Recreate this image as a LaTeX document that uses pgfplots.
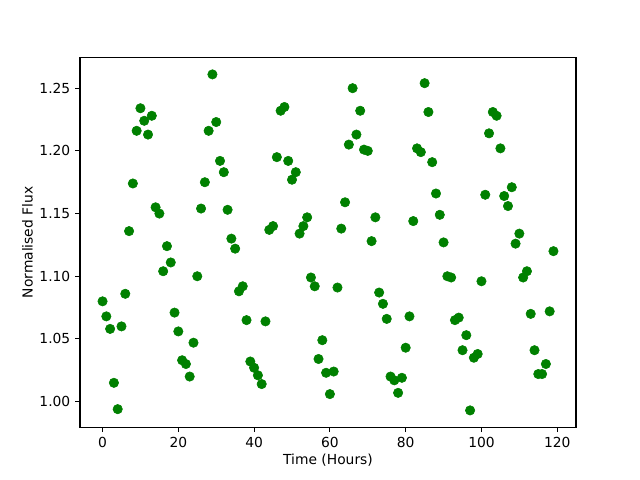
\documentclass[border=0pt]{standalone}
\usepackage{fontspec}
\setmainfont{DejaVu Sans}
\usepackage{pgfplots}
\pgfplotsset{compat=1.18}
\definecolor{mplgreen}{HTML}{008000}

\begin{document}
\begin{tikzpicture}
\path[use as bounding box] (-0.8in,-0.528in) rectangle (5.6in,4.272in);
\begin{axis}[
    at={(0,0)}, anchor=south west,
    scale only axis,
    width=4.96in, height=3.696in,
    xmin=-5.95, xmax=124.95,
    ymin=0.9796, ymax=1.2744,
    xtick={0,20,...,120},
    ytick={1.00,1.05,...,1.26},
    yticklabel style={/pgf/number format/.cd, fixed, fixed zerofill, precision=2},
    /pgf/number format/assume math mode=true,
    tick align=outside,
    tick pos=left,
    major tick length=3.5pt,
    tick style={black, line width=0.8pt},
    axis line style={line width=0.8pt},
    ticklabel style={font=\fontsize{10}{12}\selectfont},
    label style={font=\fontsize{10}{12}\selectfont},
    xlabel={Time (Hours)},
    ylabel={Normalised Flux},
    xlabel style={yshift=2pt},
    ylabel style={yshift=-2pt},
]
\addplot[only marks, mark=*, mark size=3.4pt, color=mplgreen, mark options={fill=mplgreen, draw=mplgreen}] coordinates {
(0,1.080) (1,1.068) (2,1.058) (3,1.015) (4,0.994) (5,1.060) (6,1.086) (7,1.136) (8,1.174) (9,1.216)
(10,1.234) (11,1.224) (12,1.213) (13,1.228) (14,1.155) (15,1.150) (16,1.104) (17,1.124) (18,1.111) (19,1.071)
(20,1.056) (21,1.033) (22,1.030) (23,1.020) (24,1.047) (25,1.100) (26,1.154) (27,1.175) (28,1.216) (29,1.261)
(30,1.223) (31,1.192) (32,1.183) (33,1.153) (34,1.130) (35,1.122) (36,1.088) (37,1.092) (38,1.065) (39,1.032)
(40,1.027) (41,1.021) (42,1.014) (43,1.064) (44,1.137) (45,1.140) (46,1.195) (47,1.232) (48,1.235) (49,1.192)
(50,1.177) (51,1.183) (52,1.134) (53,1.140) (54,1.147) (55,1.099) (56,1.092) (57,1.034) (58,1.049) (59,1.023)
(60,1.006) (61,1.024) (62,1.091) (63,1.138) (64,1.159) (65,1.205) (66,1.250) (67,1.213) (68,1.232) (69,1.201)
(70,1.200) (71,1.128) (72,1.147) (73,1.087) (74,1.078) (75,1.066) (76,1.020) (77,1.017) (78,1.007) (79,1.019)
(80,1.043) (81,1.068) (82,1.144) (83,1.202) (84,1.199) (85,1.254) (86,1.231) (87,1.191) (88,1.166) (89,1.149)
(90,1.127) (91,1.100) (92,1.099) (93,1.065) (94,1.067) (95,1.041) (96,1.053) (97,0.993) (98,1.035) (99,1.038)
(100,1.096) (101,1.165) (102,1.214) (103,1.231) (104,1.228) (105,1.202) (106,1.164) (107,1.156) (108,1.171) (109,1.126)
(110,1.134) (111,1.099) (112,1.104) (113,1.070) (114,1.041) (115,1.022) (116,1.022) (117,1.030) (118,1.072) (119,1.120)
};
\end{axis}
\end{tikzpicture}
\end{document}
